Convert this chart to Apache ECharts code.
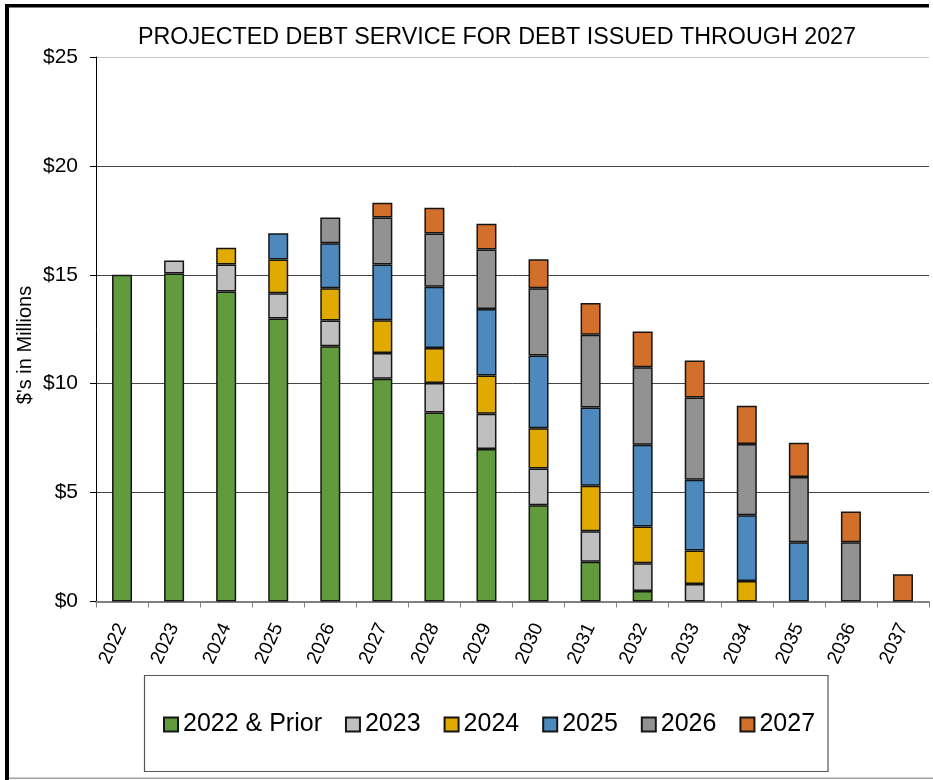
<!DOCTYPE html>
<html>
<head>
<meta charset="utf-8">
<script src="https://cdn.jsdelivr.net/npm/echarts@6/dist/echarts.min.js"></script>
<style>
html,body{margin:0;padding:0;background:#fff;}
#chart{width:933px;height:780px;}
</style>
</head>
<body>
<div id="chart"></div>
<script>
const categories = ['2022','2023','2024','2025','2026','2027','2028','2029','2030','2031','2032','2033','2034','2035','2036','2037'];
const seriesNames = ['2022 & Prior','2023','2024','2025','2026','2027'];
const s2022Prior = [15.00, 15.06, 14.23, 12.99, 11.72, 10.23, 8.68, 7.00, 4.42, 1.82, 0.48, 0, 0, 0, 0, 0];
const s2023      = [0, 0.60, 1.24, 1.16, 1.18, 1.18, 1.35, 1.62, 1.69, 1.41, 1.28, 0.80, 0, 0, 0, 0];
const s2024      = [0, 0, 0.77, 1.55, 1.48, 1.50, 1.61, 1.76, 1.85, 2.08, 1.68, 1.54, 0.94, 0, 0, 0];
const s2025      = [0, 0, 0, 1.21, 2.07, 2.56, 2.81, 3.05, 3.34, 3.60, 3.76, 3.25, 3.02, 2.72, 0, 0];
const s2026      = [0, 0, 0, 0, 1.18, 2.16, 2.45, 2.73, 3.08, 3.34, 3.55, 3.78, 3.27, 3.00, 2.72, 0];
const s2027      = [0, 0, 0, 0, 0, 0.68, 1.18, 1.18, 1.33, 1.46, 1.65, 1.69, 1.76, 1.57, 1.41, 1.25];
const yTicks = [0, 5, 10, 15, 20, 25];

const seriesData = [s2022Prior, s2023, s2024, s2025, s2026, s2027];
const colors = ['#629A3E', '#BFBFBF', '#E0AA00', '#4E89BD', '#929292', '#D26F2A'];
const FONT = '"Liberation Sans", Arial, sans-serif';

const chart = echarts.init(document.getElementById('chart'));
chart.setOption({
  animation: false,
  backgroundColor: '#fff',
  textStyle: { fontFamily: FONT },
  title: {
    text: 'PROJECTED DEBT SERVICE FOR DEBT ISSUED THROUGH 2027',
    left: 133, top: 21,
    textStyle: { fontFamily: FONT, fontSize: 23.3, fontWeight: 'normal', color: '#000' }
  },
  grid: { left: 96, right: 4, top: 57, bottom: 178.5, containLabel: false },
  legend: {
    data: seriesNames,
    left: 158, top: 707,
    itemWidth: 14, itemHeight: 14, itemGap: 23,
    icon: 'rect',
    textStyle: { fontFamily: FONT, fontSize: 25, color: '#000' }
  },
  xAxis: {
    type: 'category',
    data: categories,
    axisLine: { lineStyle: { color: '#808080', width: 2 } },
    axisTick: { show: true, length: 6, lineStyle: { color: '#808080', width: 1 } },
    axisLabel: { rotate: 65, fontSize: 19, color: '#000', margin: 23, fontFamily: FONT }
  },
  yAxis: {
    type: 'value',
    min: yTicks[0], max: yTicks[yTicks.length - 1], interval: 5,
    axisLine: { show: true, lineStyle: { color: '#000', width: 1 } },
    axisTick: { show: true, length: 6, lineStyle: { color: '#000' } },
    axisLabel: { fontSize: 21, color: '#000', margin: 18, formatter: v => '$' + v, fontFamily: FONT },
    splitLine: { show: true, lineStyle: { color: ['#808080', '#444', '#444', '#444', '#444', '#c8c8c8'], width: 1 } }
  },
  series: seriesData.map((arr, i) => ({
    name: seriesNames[i],
    type: 'bar',
    stack: 'total',
    barWidth: 20,
    itemStyle: { color: colors[i], borderColor: '#151515', borderWidth: 1.5 },
    data: arr.map(v => v === 0 ? '-' : v)
  })),
  graphic: [
    { type: 'rect', shape: { x: 5, y: 4, width: 924, height: 3.5 }, style: { fill: '#000' } },
    { type: 'rect', shape: { x: 5, y: 4, width: 4, height: 776 }, style: { fill: '#000' } },
    { type: 'rect', shape: { x: 9, y: 777.5, width: 924, height: 1.5 }, style: { fill: '#a0a0a0' } },
    { type: 'rect', shape: { x: 144.5, y: 675.5, width: 683.5, height: 96 }, style: { fill: 'none', stroke: '#555', lineWidth: 1.2 }, z: -1 },
    { type: 'text', x: 25, y: 345, rotation: Math.PI / 2,
      style: { text: "$'s in Millions", fontSize: 20, fontFamily: FONT, fill: '#000', align: 'center', verticalAlign: 'middle' } }
  ]
});
</script>
</body>
</html>
